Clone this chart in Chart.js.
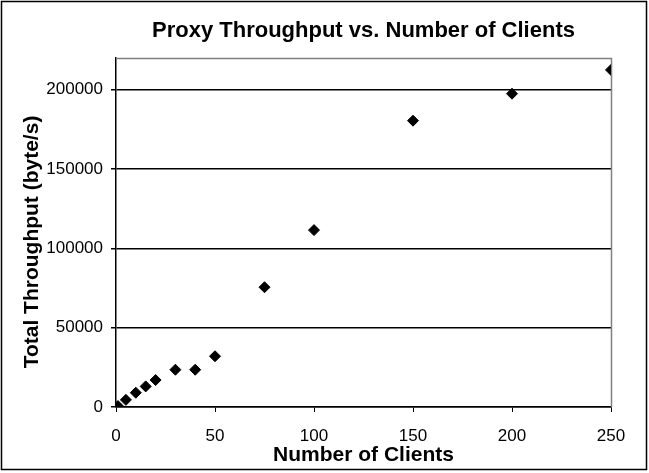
<!DOCTYPE html>
<html>
<head>
<meta charset="utf-8">
<script src="https://cdn.jsdelivr.net/npm/chart.js@4"></script>
<style>
html,body{margin:0;padding:0;background:#fff;}
#wrap{width:649px;height:473px;position:relative;}
</style>
</head>
<body>
<div id="wrap"><canvas id="c" width="649" height="473"></canvas></div>
<script>
const chartTitle = "Proxy Throughput vs. Number of Clients";
const xTitle = "Number of Clients";
const yTitle = "Total Throughput (byte/s)";
const clients = [1, 5, 10, 15, 20, 30, 40, 50, 75, 100, 150, 200, 250];
const throughput = [600, 4500, 9000, 13000, 17000, 23500, 23500, 32000, 75500, 111500, 180500, 197500, 212500];
const xTicks = [0, 50, 100, 150, 200, 250];
const yTicks = [0, 50000, 100000, 150000, 200000];

const FONT = '"Liberation Sans", Arial, sans-serif';
const points = clients.map((x, i) => ({x: x, y: throughput[i]}));

const decor = {
  id: 'decor',
  beforeDatasetsDraw(chart) {
    const {ctx, chartArea: a} = chart;
    ctx.save();
    ctx.strokeStyle = '#808080';
    ctx.lineWidth = 1.5;
    ctx.beginPath();
    ctx.moveTo(a.left, a.top + 0.5);
    ctx.lineTo(a.right + 0.5, a.top + 0.5);
    ctx.lineTo(a.right + 0.5, a.bottom);
    ctx.stroke();
    ctx.restore();
  },
  afterDraw(chart) {
    const {ctx, chartArea: a} = chart;
    const cx = (a.left + a.right) / 2;
    ctx.save();
    ctx.fillStyle = '#000';
    ctx.textAlign = 'center';
    ctx.textBaseline = 'middle';
    ctx.font = 'bold 22px ' + FONT;
    ctx.fillText(chartTitle, cx, 31);
    ctx.font = 'bold 21px ' + FONT;
    ctx.fillText(xTitle, cx, 455);
    ctx.save();
    ctx.translate(32, 242);
    ctx.rotate(-Math.PI / 2);
    ctx.fillText(yTitle, 0, 0);
    ctx.restore();
    ctx.strokeStyle = '#000';
    ctx.lineWidth = 1.5;
    ctx.strokeRect(1.5, 1.5, 645, 468);
    ctx.restore();
  }
};

new Chart(document.getElementById('c'), {
  type: 'scatter',
  data: {
    datasets: [{
      data: points,
      pointStyle: 'rectRot',
      pointRadius: 5.5,
      pointHoverRadius: 5.5,
      backgroundColor: '#000',
      borderColor: '#000',
      borderWidth: 1
    }]
  },
  options: {
    responsive: false,
    animation: false,
    devicePixelRatio: 1,
    layout: {padding: {left: 0, top: 58, right: 38, bottom: 0}},
    plugins: {legend: {display: false}, tooltip: {enabled: false}, title: {display: false}},
    scales: {
      x: {
        type: 'linear',
        min: 0, max: 250,
        afterBuildTicks(s) { s.ticks = xTicks.map(v => ({value: v})); },
        afterFit(s) { s.height = 66; },
        grid: {display: true, drawOnChartArea: false, drawTicks: true, tickLength: 5, color: '#000', lineWidth: 1},
        border: {display: true, color: '#000', width: 1.5},
        ticks: {color: '#000', padding: 14, maxRotation: 0, callback: v => String(v), font: {family: FONT, size: 17}}
      },
      y: {
        type: 'linear',
        min: 0, max: 220000,
        afterBuildTicks(s) { s.ticks = yTicks.map(v => ({value: v})); },
        afterFit(s) { s.width = 116; },
        grid: {display: true, drawTicks: true, tickLength: 5, color: '#000', lineWidth: 1.5},
        border: {display: true, color: '#000', width: 1.5},
        ticks: {color: '#000', padding: 8, callback: v => String(v), font: {family: FONT, size: 17}}
      }
    }
  },
  plugins: [decor]
});
</script>
</body>
</html>
